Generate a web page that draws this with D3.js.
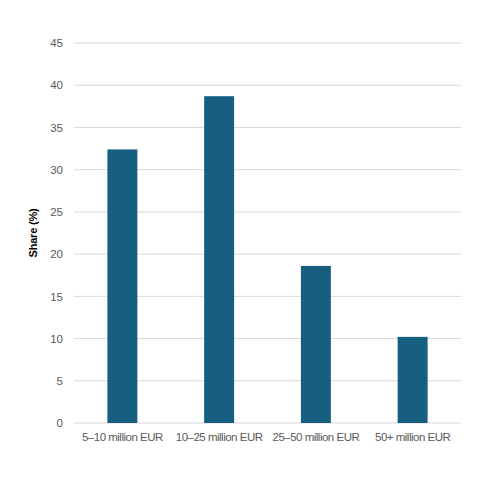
<!DOCTYPE html>
<html>
<head>
<meta charset="utf-8">
<script src="https://cdn.jsdelivr.net/npm/d3@7"></script>
<style>
  body { margin: 0; background: #fff; }
  text { font-family: "Liberation Sans", Arial, sans-serif; }
</style>
</head>
<body>
<svg id="chart" width="480" height="499"></svg>
<script>
// chart data
var categories = ["5–10 million EUR", "10–25 million EUR", "25–50 million EUR", "50+ million EUR"];
var shares = [32.4, 38.7, 18.6, 10.2];
var yTicks = [0, 5, 10, 15, 20, 25, 30, 35, 40, 45];

var svg = d3.select("#chart"),
    margin = {top: 43, right: 19, bottom: 76, left: 74},
    width = +svg.attr("width") - margin.left - margin.right,
    height = +svg.attr("height") - margin.top - margin.bottom;

var g = svg.append("g")
    .attr("transform", "translate(" + margin.left + "," + margin.top + ")");

var x = d3.scaleBand()
    .domain(categories)
    .range([0, width])
    .paddingInner(0.69)
    .paddingOuter(0.345);

var y = d3.scaleLinear()
    .domain([0, 45])
    .range([height, 0]);

// gridlines
g.selectAll(".grid")
  .data(yTicks)
  .enter().append("line")
    .attr("class", "grid")
    .attr("x1", 0)
    .attr("x2", width)
    .attr("y1", function(d) { return y(d); })
    .attr("y2", function(d) { return y(d); })
    .attr("stroke", "#d9d9d9")
    .attr("stroke-width", 1);

// y axis
var yAxis = g.append("g")
    .call(d3.axisLeft(y).tickValues(yTicks).tickSize(0).tickPadding(11));
yAxis.select(".domain").remove();
yAxis.selectAll("text")
    .attr("fill", "#595959")
    .style("font-size", "11.5px");

// bars
g.selectAll(".bar")
  .data(shares)
  .enter().append("rect")
    .attr("class", "bar")
    .attr("x", function(d, i) { return x(categories[i]); })
    .attr("y", function(d) { return y(d); })
    .attr("width", x.bandwidth())
    .attr("height", function(d) { return height - y(d); })
    .attr("fill", "#165f80");

// x axis
var xAxis = g.append("g")
    .attr("transform", "translate(0," + height + ")")
    .call(d3.axisBottom(x).tickSize(0).tickPadding(10));
xAxis.select(".domain").remove();
xAxis.selectAll("text")
    .attr("fill", "#595959")
    .style("font-size", "11.5px")
    .style("letter-spacing", "-0.5px");

// y axis title
svg.append("text")
    .attr("transform", "translate(37," + (margin.top + height / 2) + ") rotate(-90)")
    .attr("text-anchor", "middle")
    .attr("fill", "#000")
    .style("font-size", "11px")
    .style("font-weight", "bold")
    .style("letter-spacing", "-0.2px")
    .text("Share (%)");
</script>
</body>
</html>
